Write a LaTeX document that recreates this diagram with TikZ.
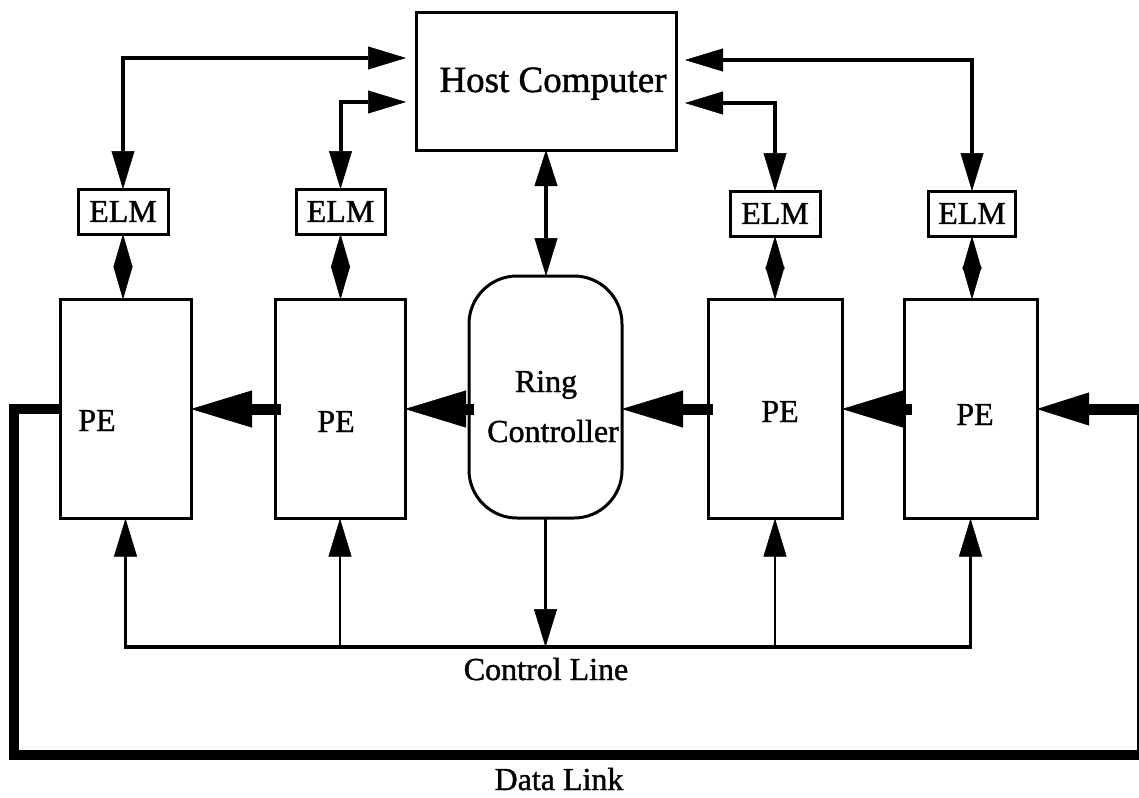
\documentclass[tikz,border=0pt]{standalone}
\usepackage{fontspec}
\setmainfont{Liberation Serif}[FakeBold=1.2]
\usetikzlibrary{arrows.meta}
\newcommand\lblfont{\fontsize{32}{38}\selectfont}
\newcommand\hostfont{\fontsize{37}{44}\selectfont}

\begin{document}
\begin{tikzpicture}[x=1pt,y=-1pt,
  blk/.style={draw, line width=3pt, inner sep=0pt, outer sep=0pt},
  lbl/.style={font=\lblfont, inner sep=0pt, anchor=base},
  hostlink/.style={line width=4pt,
    arrows={Triangle[length=38pt,width=23pt,line width=0.5pt]-Triangle[length=38pt,width=23pt,line width=0.5pt]}},
  elmlink/.style={line width=2pt,
    arrows={Triangle[length=33pt,width=19pt,line width=0.5pt]-Triangle[length=33pt,width=19pt,line width=0.5pt]}},
  ringlink/.style={line width=3.5pt,
    arrows={Triangle[length=36pt,width=23pt,line width=0.5pt]-Triangle[length=38pt,width=23pt,line width=0.5pt]}},
  ctlarrow/.style={line width=2.6pt,
    arrows={-Triangle[length=38pt,width=23pt,line width=0.5pt]}},
  busline/.style={line width=3.5pt, line cap=rect},
  datalink/.style={line width=11pt,
    arrows={-Triangle[length=61pt,width=37pt,line width=0.5pt]}},
  datalinkend/.style={line width=11pt,
    arrows={-Triangle[length=52pt,width=33pt,line width=0.5pt]}},
  ringline/.style={line width=10pt, line join=miter},
]
\useasboundingbox (0,0) rectangle (1139,797);

% host computer and ring controller
\node[blk, minimum width=260pt, minimum height=137pt] (host) at (546,81.5) {};
\node[lbl, font=\hostfont] (hosttxt) at (553,92) {Host Computer};
\node[blk, rounded corners=48pt, minimum width=153pt, minimum height=242pt] (ring) at (545.5,397) {};
\node[lbl] (ringtxt1) at (546,392) {Ring};
\node[lbl] (ringtxt2) at (553,442) {Controller};

% ELM modules
\node[blk, font=\lblfont, minimum width=90pt, minimum height=45pt] (elm1) at (123,211.5) {ELM};
\node[blk, font=\lblfont, minimum width=89pt, minimum height=45pt] (elm2) at (340.5,211.5) {ELM};
\node[blk, font=\lblfont, minimum width=90pt, minimum height=45pt] (elm3) at (775,213.5) {ELM};
\node[blk, font=\lblfont, minimum width=87pt, minimum height=45pt] (elm4) at (972,213.5) {ELM};

% processing elements
\node[blk, minimum width=131pt, minimum height=219pt] (pe1) at (125.5,409) {};
\node[blk, minimum width=130pt, minimum height=219pt] (pe2) at (340,409) {};
\node[blk, minimum width=134pt, minimum height=219pt] (pe3) at (775,409) {};
\node[blk, minimum width=133pt, minimum height=219pt] (pe4) at (970.5,409) {};
\node[lbl] (pe1txt) at (97,431) {PE};
\node[lbl] (pe2txt) at (336,432) {PE};
\node[lbl] (pe3txt) at (780,422) {PE};
\node[lbl] (pe4txt) at (975,425) {PE};

% host <-> ELM links
\draw[hostlink] ([xshift=-10pt,yshift=23.5pt]host.west) -| (elm1.north);
\draw[hostlink] ([xshift=-10pt,yshift=-20.5pt]host.west) -| (elm2.north);
\draw[hostlink] ([xshift=9pt,yshift=-21.5pt]host.east) -| (elm3.north);
\draw[hostlink] ([xshift=9pt,yshift=21.5pt]host.east) -| (elm4.north);

% ELM <-> PE links
\draw[elmlink] (elm1.south) -- (elm1.south |- pe1.north);
\draw[elmlink] (elm2.south) -- (elm2.south |- pe2.north);
\draw[elmlink] (elm3.south) -- (elm3.south |- pe3.north);
\draw[elmlink] (elm4.south) -- (elm4.south |- pe4.north);

% host <-> ring controller
\draw[ringlink] (host.south) -- (host.south |- ring.north);

% control line
\coordinate (busL) at (pe1.south |- 0,647);
\coordinate (busR) at (pe4.south |- 0,647);
\draw[busline] (busL) -- (busR);
\draw[ctlarrow] (ring.south) -- (ring.south |- busL);
\draw[ctlarrow] (pe1.south |- busL) -- (pe1.south);
\draw[ctlarrow] (pe2.south |- busL) -- (pe2.south);
\draw[ctlarrow] (pe3.south |- busL) -- (pe3.south);
\draw[ctlarrow] (pe4.south |- busL) -- (pe4.south);
\node[lbl] (ctltxt) at (546,680) {Control Line};

% data ring between the elements
\coordinate (rw) at (ring.west |- pe2.east);
\coordinate (re) at (ring.east |- pe3.west);
\draw[datalink] ([xshift=6pt]pe2.west) -- (pe1.east);
\draw[datalink] ([xshift=5pt]rw) -- (pe2.east);
\draw[datalink] ([xshift=5pt]pe3.west) -- (re);
\draw[datalink] ([xshift=8pt]pe4.west) -- (pe3.east);

% data link return path
\coordinate (dl1) at (pe1.west -| 14,0);
\coordinate (dl2) at (14,755);
\coordinate (dl3) at (1139,755);
\coordinate (dl4) at (1137.5,755);
\coordinate (dl5) at (pe4.east -| 1137.5,0);
\coordinate (dl6) at (pe4.east -| 1139,0);
\draw[ringline] (pe1.west) -- (dl1) -- (dl2) -- (dl3);
\draw[line width=2pt] (dl4) -- (dl5);
\draw[datalinkend] (dl6) -- (pe4.east);
\node[lbl] (dltxt) at (559,790) {Data Link};
\end{tikzpicture}
\end{document}
